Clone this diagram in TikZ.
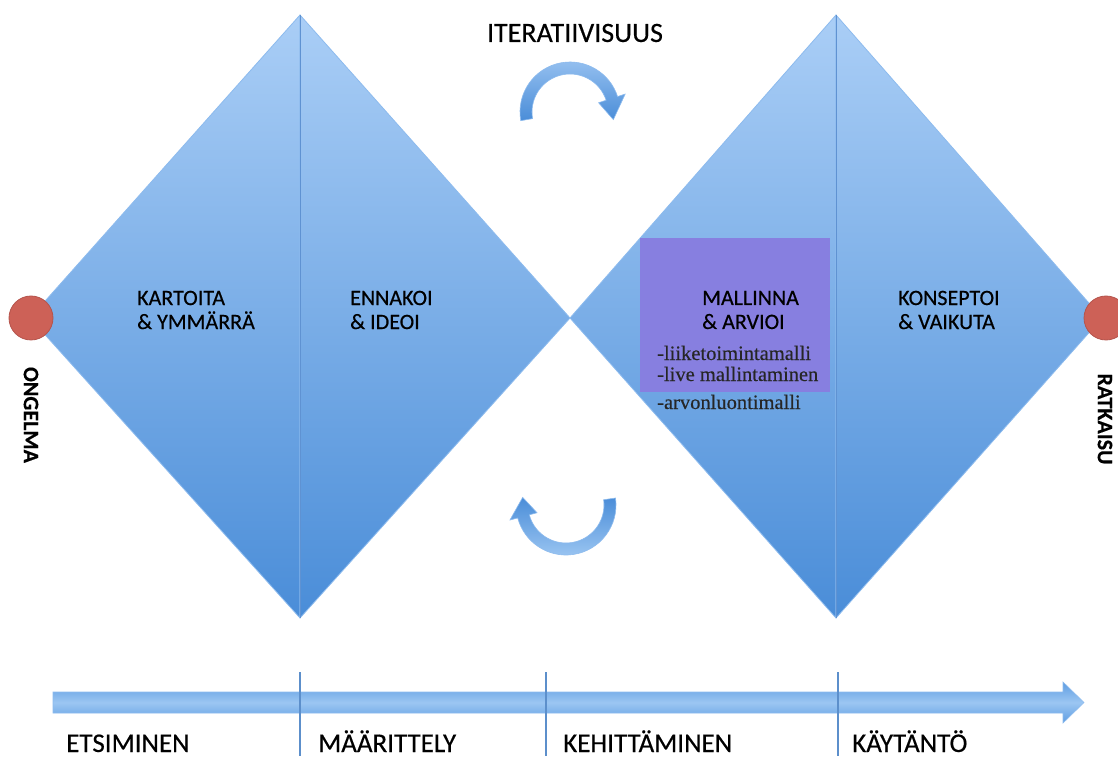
\documentclass[tikz,border=0pt]{standalone}
\usepackage{fontspec}
\setmainfont{Carlito}
\newfontfamily\lblfont{Carlito}[FakeBold=0.4]
\newfontfamily\notefont{Liberation Serif}[FakeBold=0.3]
\begin{document}
\begin{tikzpicture}[x=1pt,y=1pt,
  half/.style={top color=dTop,bottom color=dBot,draw=dEdge,line width=0.8pt,line join=round},
  phase/.style={anchor=west,align=left,font=\lblfont\fontsize{22}{24}\selectfont,text=black,inner sep=0pt},
  note/.style={anchor=west,font=\notefont\fontsize{20.5}{22}\selectfont,text=black!85,inner sep=0pt},
  endpt/.style={circle,fill=dotRed,draw=dotEdge,line width=0.8pt,minimum size=44pt,inner sep=0pt},
  side/.style={font=\lblfont\fontsize{22}{24}\selectfont\bfseries,rotate=-90,inner sep=0pt},
  stage/.style={anchor=base west,font=\lblfont\fontsize{27}{30}\selectfont,inner sep=0pt},
  tick/.style={draw=tickBlue,line width=1.2pt},
  loop/.style={draw=dEdge,line width=0.6pt}]
\definecolor{dTop}{HTML}{AACEF6}
\definecolor{dBot}{HTML}{4A8DD8}
\definecolor{dEdge}{HTML}{8DBBEE}
\definecolor{dMid}{HTML}{5F92D2}
\definecolor{dotRed}{HTML}{CD6157}
\definecolor{dotEdge}{HTML}{B5544C}
\definecolor{boxPurple}{HTML}{877FE0}
\definecolor{tickBlue}{HTML}{5C8FCB}
\definecolor{shaftLight}{HTML}{9CC6F2}
\definecolor{shaftDark}{HTML}{5E9DE2}
\useasboundingbox (0,0) rectangle (1118,758);
\fill[white] (0,0) rectangle (1118,758);

% diamond halves
\coordinate (aL) at (30,440);  \coordinate (aT) at (300,743);
\coordinate (aB) at (300,140); \coordinate (aR) at (570,440);
\coordinate (bL) at (570,440); \coordinate (bT) at (836,743);
\coordinate (bB) at (836,140); \coordinate (bR) at (1102,440);
\path[half] (aL) -- (aT) -- (aB) -- cycle;
\path[half] (aT) -- (aR) -- (aB) -- cycle;
\path[half] (bL) -- (bT) -- (bB) -- cycle;
\path[half] (bT) -- (bR) -- (bB) -- cycle;
\draw[dMid,line width=0.9pt] (aT) -- (aB);
\draw[dMid,line width=0.9pt] (bT) -- (bB);

% highlight box
\fill[boxPurple] (640,366) rectangle (830,520);

% end points
\node[endpt] (prob) at (31,440) {};
\node[endpt] (sol) at (1106,440) {};
\node[side] (probtxt) at (31,343) {ONGELMA};
\node[side] (soltxt) at (1105,339) {RATKAISU};

% phase labels
\node[phase] (p1) at (137,448) {KARTOITA\\\& YMMÄRRÄ};
\node[phase] (p2) at (350,448) {ENNAKOI\\\& IDEOI};
\node[phase] (p3) at (702,448) {MALLINNA\\\& ARVIOI};
\node[phase] (p4) at (898,448) {KONSEPTOI\\\& VAIKUTA};
\node[note] (n1) at (657,405) {-liiketoimintamalli};
\node[note] (n2) at (657,384) {-live mallintaminen};
\node[note] (n3) at (657,356) {-arvonluontimalli};

% iteration
\node[font=\lblfont\fontsize{28}{30}\selectfont,inner sep=0pt] (iter) at (575,725) {ITERATIIVISUUS};
\begin{scope}[shift={(570,646)}]
  \path[loop,top color=dTop!80!dBot,bottom color=dBot]
    (190:50) arc[start angle=190,end angle=18,radius=50]
    -- (18:58) -- (-10:44) -- (18:30) -- (18:38)
    arc[start angle=18,end angle=190,radius=38] -- cycle;
\end{scope}
\begin{scope}[shift={(566,253)}]
  \path[loop,top color=dBot,bottom color=shaftLight]
    (8:50) arc[start angle=8,end angle=-165,radius=50]
    -- (-165:58) -- (170:44) -- (-165:30) -- (-165:38)
    arc[start angle=-165,end angle=8,radius=38] -- cycle;
\end{scope}

% time line
\coordinate (tStart) at (53,55.5);
\coordinate (tTip) at (1084,55.5);
\path[draw=dEdge,line width=0.6pt,top color=shaftDark,bottom color=shaftDark,middle color=shaftLight]
  (tStart) |- (1063,45) -- (1063,35) -- (tTip) -- (1063,76) -- (1063,66) -| (tStart);
\coordinate (m1t) at (300,86); \coordinate (m1b) at (300,2);
\coordinate (m2t) at (546,86); \coordinate (m2b) at (546,2);
\coordinate (m3t) at (838,86); \coordinate (m3b) at (838,2);
\draw[tick] (m1t) -- (m1b);
\draw[tick] (m2t) -- (m2b);
\draw[tick] (m3t) -- (m3b);
\node[stage] (s1) at (66,6) {ETSIMINEN};
\node[stage] (s2) at (318,6) {MÄÄRITTELY};
\node[stage] (s3) at (563,6) {KEHITTÄMINEN};
\node[stage] (s4) at (852,6) {KÄYTÄNTÖ};
\end{tikzpicture}
\end{document}
